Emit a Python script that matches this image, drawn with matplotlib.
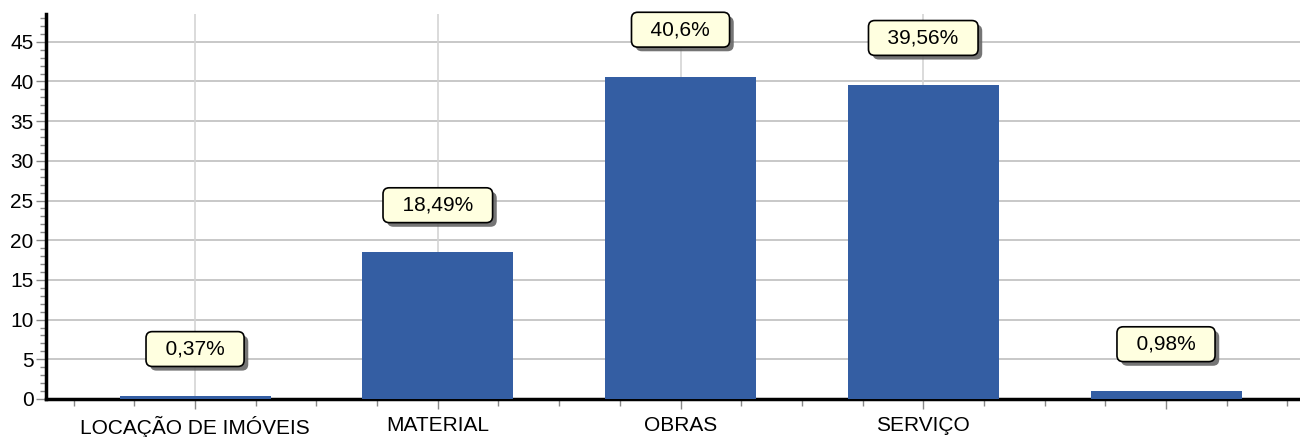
import matplotlib
matplotlib.use('Agg')
import matplotlib.pyplot as plt
import matplotlib.patheffects as pe
from matplotlib.ticker import MultipleLocator

plt.rcParams['font.family'] = ['Liberation Sans', 'DejaVu Sans']

categorias = ['LOCAÇÃO DE IMÓVEIS', 'MATERIAL', 'OBRAS', 'SERVIÇO', '']
valores = [0.37, 18.49, 40.6, 39.56, 0.98]
rotulos = ['0,37%', '18,49%', '40,6%', '39,56%', '0,98%']

fig = plt.figure(figsize=(13, 4.37), dpi=100)
ax = fig.add_axes([0.0354, 0.087, 0.9646, 0.881])

x = list(range(len(categorias)))
ax.bar(x, valores, width=0.622, color='#345ea3', zorder=3)

# vertical grid only on the first four categories
for xi in x[:4]:
    ax.axvline(xi, color='#d4d4d4', lw=1.2, zorder=1)
ax.yaxis.grid(True, color='#c8c8c8', lw=1.4, zorder=1)
ax.set_axisbelow(True)

ax.set_xlim(-0.614, 4.552)
ax.set_ylim(0, 48.5)
ax.set_xticks(x)
ax.set_xticklabels(categorias, fontsize=15)
ax.xaxis.set_minor_locator(MultipleLocator(0.25))
ax.yaxis.set_major_locator(MultipleLocator(5))
ax.yaxis.set_minor_locator(MultipleLocator(1))
ax.tick_params(axis='y', labelsize=15, length=7, width=1, color='#888888', pad=2)
ax.tick_params(axis='y', which='minor', length=4, width=1, color='#888888')
ax.tick_params(axis='x', length=7, width=1, color='#888888', pad=5)
ax.tick_params(axis='x', which='minor', length=5, width=1, color='#888888')

for s in ['top', 'right']:
    ax.spines[s].set_visible(False)
ax.spines['left'].set_linewidth(2.5)
ax.spines['bottom'].set_linewidth(2.5)

# value labels with shadowed boxes
for xi, v, t in zip(x, valores, rotulos):
    txt = ax.annotate('  ' + t + '  ', (xi, v), xytext=(0, 47),
                      textcoords='offset pixels',
                      ha='center', va='center', fontsize=15, color='black',
                      bbox=dict(boxstyle='round,pad=0.38,rounding_size=0.3',
                                fc='#ffffe0', ec='black', lw=1.2), zorder=5)
    txt.get_bbox_patch().set_path_effects([
        pe.SimplePatchShadow(offset=(3, -3), shadow_rgbFace='#666666', alpha=0.9),
        pe.Normal()])

plt.savefig('out.png')
